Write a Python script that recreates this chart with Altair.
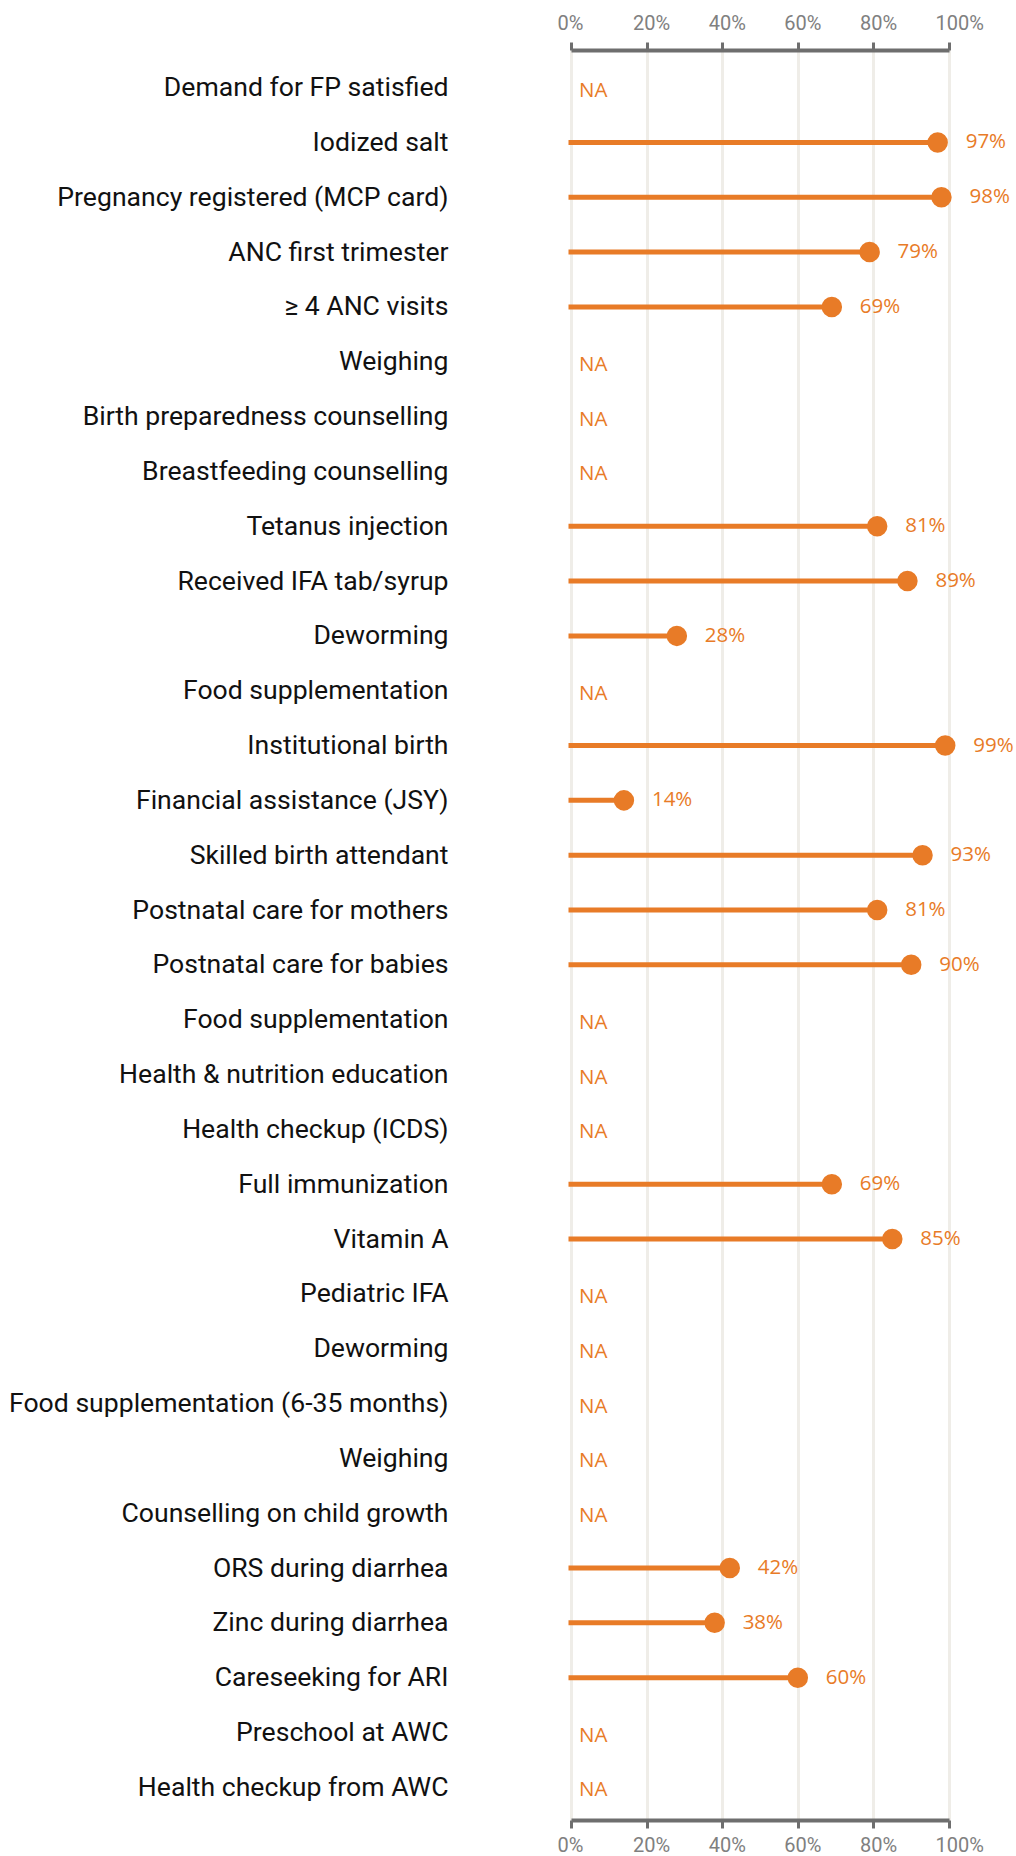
import altair as alt
import pandas as pd

labels = [
    "Demand for FP satisfied", "Iodized salt", "Pregnancy registered (MCP card)",
    "ANC first trimester", "≥ 4 ANC visits", "Weighing",
    "Birth preparedness counselling", "Breastfeeding counselling", "Tetanus injection",
    "Received IFA tab/syrup", "Deworming", "Food supplementation",
    "Institutional birth", "Financial assistance (JSY)", "Skilled birth attendant",
    "Postnatal care for mothers", "Postnatal care for babies", "Food supplementation",
    "Health & nutrition education", "Health checkup (ICDS)", "Full immunization",
    "Vitamin A", "Pediatric IFA", "Deworming",
    "Food supplementation (6-35 months)", "Weighing", "Counselling on child growth",
    "ORS during diarrhea", "Zinc during diarrhea", "Careseeking for ARI",
    "Preschool at AWC", "Health checkup from AWC",
]
values = [
    None, 97, 98, 79, 69, None, None, None, 81, 89, 28, None, 99, 14, 93, 81, 90,
    None, None, None, 69, 85, None, None, None, None, None, 42, 38, 60, None, None,
]
tick_values = [0, 20, 40, 60, 80, 100]

rows = list(range(len(labels)))
df = pd.DataFrame({"row": rows, "label": labels, "value": values})

ORANGE = "#E87B27"
label_expr = "[" + ",".join('"' + l.replace('"', '\\"') + '"' for l in labels) + "][datum.value]"

y_enc = alt.Y(
    "row:O",
    sort=None,
    scale=alt.Scale(type="point", padding=0.64, align=0.535, domain=rows),
    axis=alt.Axis(
        title=None, labelExpr=label_expr, ticks=False, domain=False, grid=False,
        labelPadding=123, labelFont="Roboto", labelFontSize=26.6, labelColor="#111111",
        labelLimit=700,
    ),
)

xscale = alt.Scale(domain=[0, 100], nice=False, zero=True)

def x_axis(orient, grid):
    return alt.Axis(
        orient=orient, title=None, values=tick_values, labelExpr="datum.value + '%'",
        grid=grid, gridColor="#EFEDE8", gridWidth=3,
        domainColor="#6E6E6E", domainWidth=4, tickColor="#6E6E6E", tickWidth=3,
        tickSize=8, labelPadding=7 if orient == "bottom" else 9,
        labelFlush=False, labelOverlap=False, labelAlign="left", labelOffset=-14,
        labelFont="Roboto", labelFontSize=20, labelColor="#808080",
    )

base = alt.Chart(df)
valid = base.transform_filter("isValid(datum.value)")
na = base.transform_filter("!isValid(datum.value)")

rules = valid.mark_rule(color=ORANGE, strokeWidth=5, strokeCap="square").encode(
    x=alt.X("value:Q", scale=xscale, axis=x_axis("top", True)),
    x2=alt.X2(datum=0),
    y=y_enc,
)
dots = valid.mark_circle(color=ORANGE, size=420, opacity=1).encode(
    x=alt.X("value:Q", scale=xscale, axis=x_axis("bottom", False)),
    y=y_enc,
)
vals = valid.transform_calculate(txt="datum.value + '%'").mark_text(
    color=ORANGE, align="left", baseline="middle", dx=28,
    font="Open Sans", fontSize=20.5,
).encode(
    x=alt.X("value:Q", scale=xscale, axis=None),
    y=y_enc,
    text="txt:N",
)
nas = na.transform_calculate(txt="'NA'", zero="0").mark_text(
    color=ORANGE, align="left", baseline="middle", dx=8, dy=3,
    font="Open Sans", fontSize=20.5,
).encode(
    x=alt.X("zero:Q", scale=xscale, axis=None),
    y=y_enc,
    text="txt:N",
)

chart = (
    alt.layer(rules, dots, vals, nas)
    .resolve_axis(x="independent")
    .properties(
        width=378, height=1770,
        autosize=alt.AutoSizeParams(type="none"),
        padding={"left": 571, "top": 50, "right": 67, "bottom": 36},
    )
    .configure_view(stroke=None)
    .configure(background="white")
)

chart.save("out.html", embed_options={"renderer": "svg", "actions": False})
